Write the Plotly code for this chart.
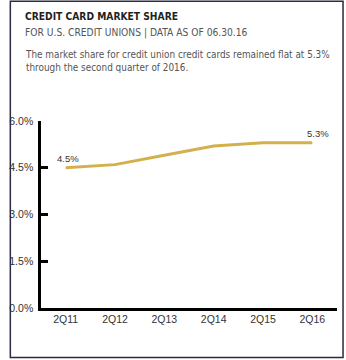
import plotly.graph_objects as go

# Credit card market share of U.S. credit unions, second quarter of each year
quarters = ["2Q11", "2Q12", "2Q13", "2Q14", "2Q15", "2Q16"]
share_pct = [4.5, 4.6, 4.9, 5.2, 5.3, 5.3]
y_ticks = [0.0, 1.5, 3.0, 4.5, 6.0]
labelled = [0, 5]  # points that carry a value label

W, H = 346, 360
L, R, T, B = 33, 9, 121, 52
PW, PH = W - L - R, H - T - B


def px(x):
    return (x - L) / PW


def py(y):
    return (H - B - y) / PH


GOLD = "#d4b04c"
NARROW = "DejaVu Sans Condensed, Roboto, sans-serif"
SANS = "Liberation Sans, Arial, sans-serif"
PAD = "\u00a0"  # small gap between the y labels and the axis line

fig = go.Figure()
fig.add_trace(go.Scatter(
    x=quarters, y=share_pct, mode="lines",
    line=dict(color=GOLD, width=3), hoverinfo="skip", showlegend=False,
))

for i in labelled:
    fig.add_annotation(
        x=quarters[i], y=share_pct[i], text=f"{share_pct[i]:.1f}%",
        showarrow=False, xshift=2 if i == 0 else 6, yshift=9,
        font=dict(family=SANS, size=9.5, color="#333333"),
    )

# Heading block
fig.add_annotation(x=px(14), y=py(16), xref="paper", yref="paper", xanchor="left", yanchor="middle",
                   text="<b>CREDIT CARD MARKET SHARE</b>", showarrow=False,
                   font=dict(family=NARROW, size=10.2, color="#231f20"))
fig.add_annotation(x=px(14), y=py(32.5), xref="paper", yref="paper", xanchor="left", yanchor="middle",
                   text="FOR U.S. CREDIT UNIONS | DATA AS OF 06.30.16", showarrow=False,
                   font=dict(family=NARROW, size=10.2, color="#555555"))
fig.add_annotation(x=px(14), y=py(60.5), xref="paper", yref="paper", xanchor="left", yanchor="middle",
                   align="left",
                   text="The market share for credit union credit cards remained flat at 5.3%<br>"
                        "through the second quarter of 2016.",
                   showarrow=False,
                   font=dict(family=NARROW, size=9.9, color="#555555"))

# Frame around the whole panel
fig.add_shape(type="rect", xref="paper", yref="paper",
              x0=px(1.5), x1=px(343.2), y0=py(357.5), y1=py(1.2),
              line=dict(color="#2b2b45", width=1.5))

fig.update_layout(
    width=W, height=H,
    margin=dict(l=L, r=R, t=T, b=B),
    paper_bgcolor="white", plot_bgcolor="white",
    font=dict(family=SANS, size=10.5, color="#333333"),
    xaxis=dict(
        range=[-0.5, 5.5], showgrid=False, zeroline=False,
        showline=True, linecolor="black", linewidth=2.5,
        ticks="", tickfont=dict(size=10.5, color="#333333"),
    ),
    yaxis=dict(
        range=[0, 6], tickvals=y_ticks, ticktext=[f"{v:.1f}%{PAD}" for v in y_ticks],
        showgrid=False, zeroline=False,
        showline=True, linecolor="black", linewidth=2.5,
        ticks="inside", ticklen=7, tickwidth=2.5, tickcolor="black",
        tickfont=dict(size=10.5, color="#333333"),
    ),
)

fig.write_html("out.html")
